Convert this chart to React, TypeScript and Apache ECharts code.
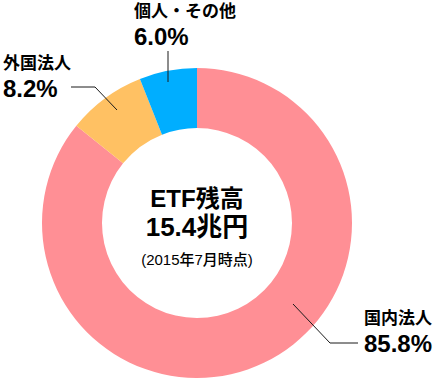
import React, { useEffect, useRef } from "react";
import * as echarts from "echarts";

const categories = ["国内法人", "外国法人", "個人・その他"];
const shares = [85.8, 8.2, 6.0];
const colors = ["#FF8F95", "#FFC163", "#00AEFF"];
const centerTitle = "ETF残高";
const centerValue = "15.4兆円";
const centerNote = "(2015年7月時点)";

const FONT = '"Liberation Sans", "Noto Sans CJK JP", sans-serif';
const INK = "#1a1a1a";

export default function App() {
  const ref = useRef<HTMLDivElement>(null);
  useEffect(() => {
    document.body.style.margin = "0";
    const chart = echarts.init(ref.current!, undefined, { renderer: "svg" });
    // top = center of name line minus half its line height
    const labelPos = [
      { x: 364, top: 306, line: [[293, 304], [330, 343], [358, 343]] },
      { x: 3, top: 51, line: [[71, 87], [95, 87], [117, 110]] },
      { x: 134, top: -1, line: [[168, 51], [168, 82]] },
    ];
    const graphics: any[] = [];
    categories.forEach((name, i) => {
      const p = labelPos[i];
      graphics.push({
        type: "text",
        x: p.x,
        y: p.top,
        style: {
          text: `{n|${name}}\n{v|${shares[i].toFixed(1)}%}`,
          textVerticalAlign: "top",
          rich: {
            n: { font: `bold 17px ${FONT}`, lineHeight: 24, color: INK, verticalAlign: "middle" },
            v: { font: `bold 24px ${FONT}`, lineHeight: 26, color: INK, verticalAlign: "middle" },
          },
        },
      });
      graphics.push({
        type: "polyline",
        shape: { points: p.line },
        style: { stroke: INK, lineWidth: 1, fill: null },
        z: 10,
      });
    });
    graphics.push({
      type: "text",
      x: 197,
      y: 185,
      style: {
        text: `{t|${centerTitle}}\n{v|${centerValue}}\n{n|${centerNote}}`,
        textAlign: "center",
        textVerticalAlign: "top",
        rich: {
          t: { font: `bold 24px ${FONT}`, lineHeight: 26, color: INK, verticalAlign: "middle", align: "center" },
          v: { font: `bold 26px ${FONT}`, lineHeight: 32, color: INK, verticalAlign: "middle", align: "center" },
          n: { font: `500 15px ${FONT}`, lineHeight: 32, color: INK, verticalAlign: "middle", align: "center" },
        },
      },
    });
    chart.setOption({
      animation: false,
      series: [
        {
          type: "pie",
          center: [197, 223],
          radius: [95, 155],
          startAngle: 90,
          clockwise: true,
          silent: true,
          label: { show: false },
          labelLine: { show: false },
          emphasis: { disabled: true },
          data: categories.map((name, i) => ({ name, value: shares[i], itemStyle: { color: colors[i] } })),
        },
      ],
      graphic: graphics,
    });
    return () => chart.dispose();
  }, []);
  return <div ref={ref} style={{ width: 440, height: 380 }} />;
}
